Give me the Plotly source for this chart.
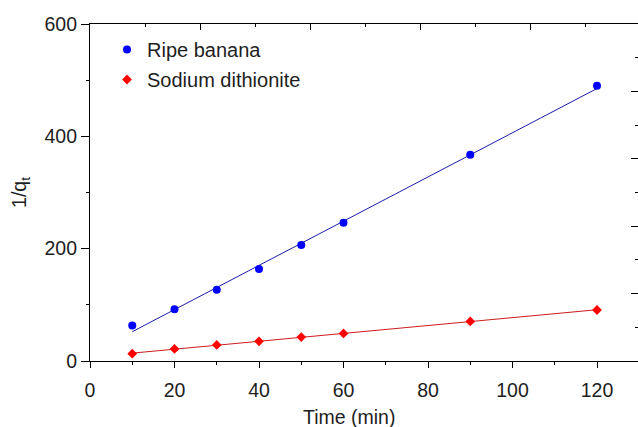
import numpy as np
import plotly.graph_objects as go

# Adsorption kinetics: 1/q_t versus contact time
time_min = [10, 20, 30, 40, 50, 60, 90, 120]
ripe_banana = [63, 92, 127, 164, 206.5, 246, 367, 490]
sodium_dithionite = [13, 21.4, 28.5, 35, 42.7, 49, 70.5, 90.8]

series_names = ["Ripe banana", "Sodium dithionite"]
x_ticks = [0, 20, 40, 60, 80, 100, 120]
y_ticks = [0, 200, 400, 600]

FONT = "Arial, 'Liberation Sans', Helvetica, sans-serif"
TEXT = "#1e1e1e"

W, H = 638, 427
ML, MR, MT, MB = 90, 0, 24, 66
plot_w = W - ML - MR
plot_h = H - MT - MB

fig = go.Figure()

# Least-squares lines through each series
t = np.array(time_min, dtype=float)
t_line = np.array([t.min(), t.max()])
for vals, line_col in [(ripe_banana, "#1c1caa"), (sodium_dithionite, "#cc1c1c")]:
    k, b = np.polyfit(t, np.array(vals, dtype=float), 1)
    fig.add_trace(go.Scatter(
        x=t_line, y=k * t_line + b, mode="lines",
        line=dict(color=line_col, width=1), showlegend=False, hoverinfo="skip",
    ))

fig.add_trace(go.Scatter(
    x=time_min, y=ripe_banana, mode="markers", name=series_names[0],
    legendgroup="a",
    marker=dict(symbol="circle", size=8, color="#0000ff"),
))
fig.add_trace(go.Scatter(
    x=time_min, y=sodium_dithionite, mode="markers", name=series_names[1],
    legendgroup="b",
    marker=dict(symbol="diamond", size=7.5, color="#ff0000"),
))

x_px = 4.225  # pixels per minute on the time axis
x_max = plot_w / x_px

axis_common = dict(
    showgrid=False, zeroline=False, showline=True, linecolor="#000000",
    linewidth=1.2, tickcolor="#000000", tickwidth=1.2,
    tickfont=dict(family=FONT, size=19.5, color=TEXT),
)

fig.update_layout(
    width=W, height=H,
    margin=dict(l=ML, r=MR, t=MT, b=MB, pad=0),
    paper_bgcolor="white", plot_bgcolor="white",
    font=dict(family=FONT, size=19.5, color=TEXT),
    showlegend=True,
    legend=dict(
        x=(107 - ML) / plot_w, y=1 - (30 - MT) / plot_h,
        xanchor="left", yanchor="top",
        bgcolor="rgba(0,0,0,0)", borderwidth=0,
        font=dict(family=FONT, size=20, color=TEXT),
        traceorder="grouped", tracegroupgap=1,
    ),
    xaxis=dict(
        **axis_common, range=[0, x_max], tickmode="array", tickvals=x_ticks,
        ticks="outside", ticklen=6,
        minor=dict(dtick=10, ticks="outside", ticklen=3, tickcolor="#000000", tickwidth=1.2),
        ticklabelstandoff=5,
    ),
    yaxis=dict(
        **axis_common, range=[0, 600], tickmode="array", tickvals=y_ticks,
        ticks="outside", ticklen=8,
        minor=dict(dtick=100, ticks="outside", ticklen=3, tickcolor="#000000", tickwidth=1.2),
        title=dict(text="1/q<sub>t</sub>", font=dict(family=FONT, size=19.5, color=TEXT), standoff=12),
    ),
    # Secondary frame axes: ticks only, no labels
    xaxis2=dict(
        overlaying="x", side="top", anchor="y", range=[0, plot_w / 110.0],
        showgrid=False, zeroline=False, showline=True, linecolor="#000000", linewidth=1.2,
        ticks="inside", ticklen=6, tickcolor="#000000", tickwidth=1.2, dtick=1,
        minor=dict(dtick=0.5, ticks="inside", ticklen=3, tickcolor="#000000", tickwidth=1.2),
        showticklabels=False,
    ),
    yaxis2=dict(
        overlaying="y", side="right", anchor="x", range=[0, 10],
        showgrid=False, zeroline=False, showline=False,
        ticks="inside", ticklen=7, tickcolor="#000000", tickwidth=1.2, dtick=2,
        minor=dict(dtick=1, ticks="inside", ticklen=3, tickcolor="#000000", tickwidth=1.2),
        showticklabels=False,
    ),
    annotations=[dict(
        text="Time (min)", xref="paper", yref="paper",
        x=(349 - ML) / plot_w, y=(MT + plot_h - 417) / plot_h,
        xanchor="center", yanchor="middle", showarrow=False,
        font=dict(family=FONT, size=19.5, color=TEXT),
    )],
)

# Invisible traces that activate the secondary frame axes
fig.add_trace(go.Scatter(x=[None], y=[None], xaxis="x2", yaxis="y2",
                         showlegend=False, hoverinfo="skip"))

fig.write_html("out.html")
